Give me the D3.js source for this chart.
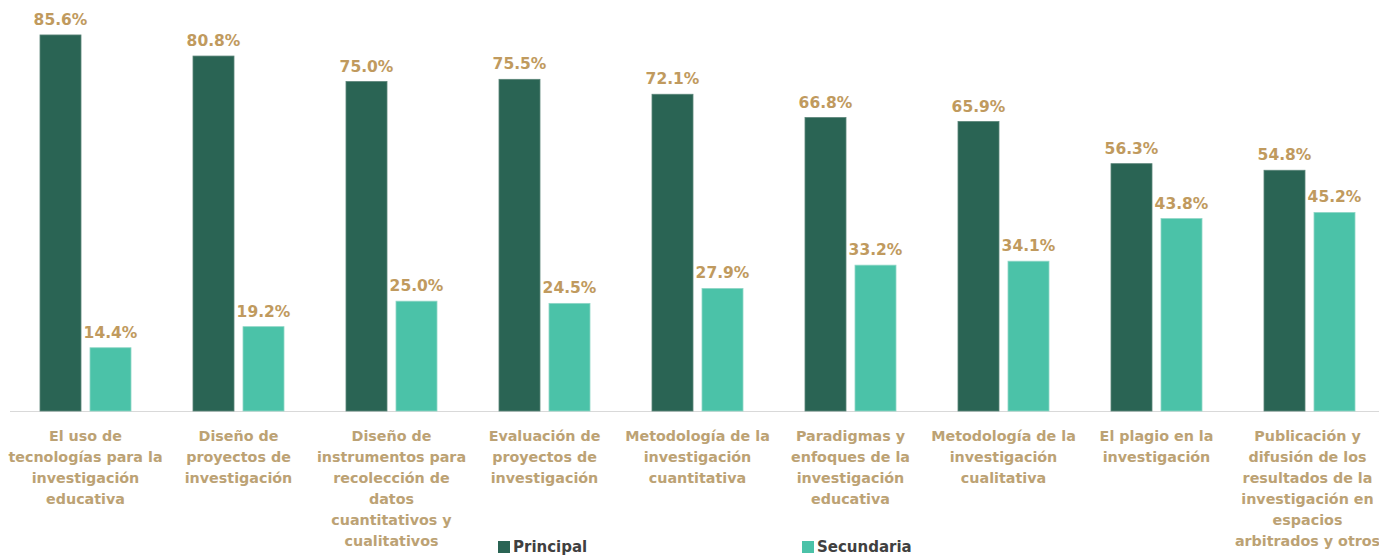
<!DOCTYPE html>
<html><head><meta charset="utf-8">
<script src="https://cdn.jsdelivr.net/npm/d3@7"></script>
<style>
body{margin:0;background:#fff;}
text{font-family:"DejaVu Sans",sans-serif;font-weight:bold;}
</style></head>
<body><svg id="c" width="1379" height="555"></svg>
<script>
const categories = [
  "El uso de\ntecnologías para la\ninvestigación\neducativa",
  "Diseño de\nproyectos de\ninvestigación",
  "Diseño de\ninstrumentos para\nrecolección de\ndatos\ncuantitativos y\ncualitativos",
  "Evaluación de\nproyectos de\ninvestigación",
  "Metodología de la\ninvestigación\ncuantitativa",
  "Paradigmas y\nenfoques de la\ninvestigación\neducativa",
  "Metodología de la\ninvestigación\ncualitativa",
  "El plagio en la\ninvestigación",
  "Publicación y\ndifusión de los\nresultados de la\ninvestigación en\nespacios\narbitrados y otros"
];
const seriesNames = ["Principal", "Secundaria"];
const principal = [85.6, 80.8, 75.0, 75.5, 72.1, 66.8, 65.9, 56.3, 54.8];
const secundaria = [14.4, 19.2, 25.0, 24.5, 27.9, 33.2, 34.1, 43.8, 45.2];
const colors = ["#2a6454", "#4bc2a8"];

const svg = d3.select("#c");
const baseY = 411;
const x = d3.scaleBand().domain(categories).range([9, 1386]).paddingInner(0).paddingOuter(0);
const y = d3.scaleLinear().domain([0, 100]).range([baseY, baseY - 439.3]);
const barW = 41, gap = 9;
const series = [principal, secundaria];

svg.append("line").attr("x1", 10).attr("x2", 1379).attr("y1", baseY + 0.5).attr("y2", baseY + 0.5)
  .attr("stroke", "#d9d9d9").attr("stroke-width", 1);

series.forEach((vals, s) => {
  const g = svg.append("g");
  const off = (s === 0 ? -(gap / 2 + barW) : gap / 2);
  g.selectAll("rect").data(vals).enter().append("rect")
    .attr("x", (d, i) => x(categories[i]) + x.bandwidth() / 2 + off)
    .attr("y", d => y(d))
    .attr("width", barW)
    .attr("height", d => baseY - y(d))
    .attr("fill", colors[s])
    .attr("stroke", s === 0 ? "#5a8478" : "#8fd6c6").attr("stroke-width", 0.8);
  g.selectAll("text").data(vals).enter().append("text")
    .attr("x", (d, i) => x(categories[i]) + x.bandwidth() / 2 + off + barW / 2)
    .attr("y", d => y(d) - 10)
    .attr("text-anchor", "middle")
    .attr("font-size", 15.5)
    .attr("fill", "#c09a5e")
    .text(d => d.toFixed(1) + "%");
});

// category labels
categories.forEach((c, k) => {
  const t = svg.append("text").attr("text-anchor", "middle").attr("font-size", 14.3).attr("fill", "#bca274");
  const cx = x(c) + x.bandwidth() / 2 - (k === categories.length - 1 ? 2 : 0);
  c.split("\n").forEach((l, i) => t.append("tspan").attr("x", cx).attr("y", 441 + i * 21).text(l));
});

// legend
const legX = [498, 802];
seriesNames.forEach((n, i) => {
  svg.append("rect").attr("x", legX[i]).attr("y", 541).attr("width", 12).attr("height", 12).attr("fill", colors[i]);
  svg.append("text").attr("x", legX[i] + 15).attr("y", 551.5).attr("font-size", 15).attr("fill", "#404040").text(n);
});
</script></body></html>
